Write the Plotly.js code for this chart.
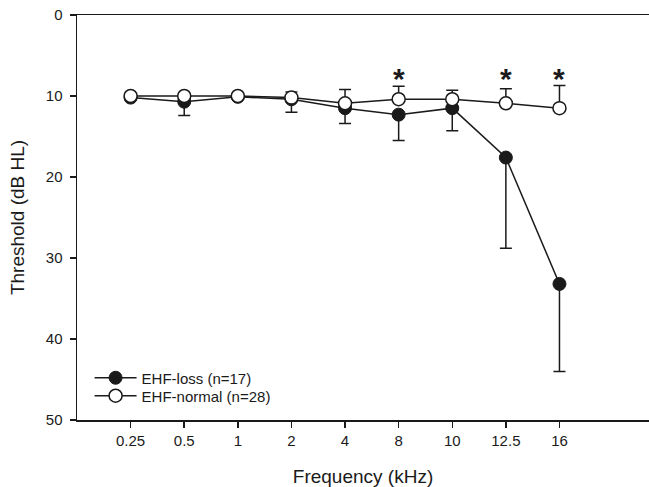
<!DOCTYPE html>
<html>
<head>
<meta charset="utf-8">
<script src="https://cdn.plot.ly/plotly-3.0.1.min.js"></script>
<style>html,body{margin:0;padding:0;background:#fff;}#chart{width:649px;height:487px;}</style>
</head>
<body>
<div id="chart"></div>
<script>
const freqLabels = ['0.25', '0.5', '1', '2', '4', '8', '10', '12.5', '16'];
const lossMean = [10.2, 10.7, 10.1, 10.4, 11.5, 12.3, 11.5, 17.6, 33.2];
const lossErr = [0.3, 1.7, 0.3, 1.6, 1.9, 3.2, 2.8, 11.2, 10.8];
const normalMean = [10.0, 10.0, 10.0, 10.2, 10.9, 10.4, 10.4, 10.9, 11.5];
const normalErr = [0.3, 0.3, 0.3, 0.7, 1.7, 1.6, 1.1, 1.8, 2.8];
const sigFreqs = ['8', '12.5', '16'];
const sigY = [7.3, 7.3, 7.3];

const ink = '#1a1a1a';
const idx = freqLabels.map((_, i) => i);
const FONT = 'Liberation Sans, Arial, Helvetica, sans-serif';

const traces = [
  {
    x: idx, y: lossMean, name: 'EHF-loss (n=17)', type: 'scatter', mode: 'lines+markers',
    legend: 'legend',
    line: {color: ink, width: 1.5},
    marker: {symbol: 'circle', size: 13, color: ink, line: {color: ink, width: 1}},
    error_y: {type: 'data', symmetric: false, array: lossErr, arrayminus: lossErr.map(() => 0),
      color: ink, thickness: 1.5, width: 6}
  },
  {
    x: idx, y: normalMean, name: 'EHF-normal (n=28)', type: 'scatter', mode: 'lines+markers',
    legend: 'legend2',
    line: {color: ink, width: 1.5},
    marker: {symbol: 'circle', size: 13, color: '#ffffff', line: {color: ink, width: 1.5}},
    error_y: {type: 'data', symmetric: false, array: normalErr.map(() => 0), arrayminus: normalErr,
      color: ink, thickness: 1.5, width: 6}
  }
];

const annotations = sigFreqs.map((f, k) => ({
  x: freqLabels.indexOf(f), y: sigY[k], xref: 'x', yref: 'y', text: '<b>*</b>',
  showarrow: false, font: {family: FONT, size: 30, color: ink},
  xanchor: 'center', yanchor: 'middle', yshift: -4
}));

const legendBase = {xanchor: 'left', yanchor: 'middle', bgcolor: 'rgba(0,0,0,0)',
  font: {size: 15, family: FONT, color: ink}, itemwidth: 42};

const layout = {
  width: 649, height: 487,
  margin: {l: 77, r: 0, t: 15, b: 67},
  paper_bgcolor: '#fff', plot_bgcolor: '#fff',
  font: {family: FONT, color: ink, size: 15},
  showlegend: true,
  legend: Object.assign({x: 0.022, y: 0.1037}, legendBase),
  legend2: Object.assign({x: 0.022, y: 0.0593}, legendBase),
  xaxis: {
    range: [-1, 9.67], tickmode: 'array', tickvals: idx, ticktext: freqLabels,
    showgrid: false, zeroline: false, showline: true, linecolor: ink, linewidth: 1.5,
    mirror: true, ticks: 'outside', ticklen: 6, tickwidth: 1.5, tickcolor: ink,
    tickfont: {size: 15},
    title: {text: 'Frequency (kHz)', font: {size: 19}, standoff: 24}
  },
  yaxis: {
    range: [50, 0], tickmode: 'array', tickvals: [0, 10, 20, 30, 40, 50],
    showgrid: false, zeroline: false, showline: true, linecolor: ink, linewidth: 1.5,
    ticks: 'outside', ticklen: 6, tickwidth: 1.5, tickcolor: ink,
    tickfont: {size: 15}, ticklabelstandoff: 4,
    title: {text: 'Threshold (dB HL)', font: {size: 19}, standoff: 16}
  },
  annotations: annotations
};

Plotly.newPlot('chart', traces, layout, {staticPlot: true, displayModeBar: false});
</script>
</body>
</html>
